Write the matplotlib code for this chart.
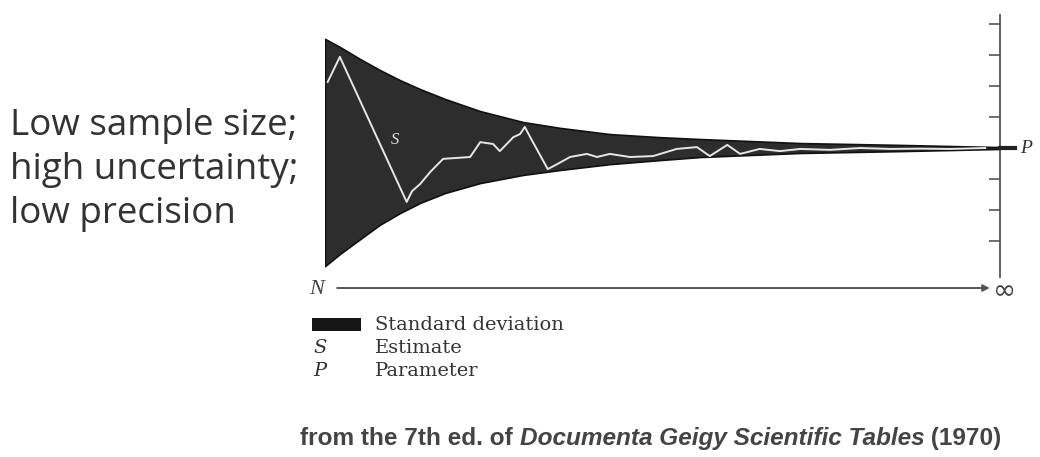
import matplotlib
matplotlib.use('Agg')
import matplotlib.pyplot as plt
from matplotlib.patches import Rectangle

# position along the sample-size axis (0 = N, 1 = infinity)
n_pos = [0.0, 0.022, 0.052, 0.081, 0.111, 0.141, 0.178, 0.230, 0.293,
         0.348, 0.422, 0.496, 0.556, 0.704, 0.852, 1.0]
# edges of the standard deviation band (tick units, P = 0)
sd_upper = [3.52, 3.26, 2.87, 2.52, 2.19, 1.90, 1.58, 1.19, 0.84,
            0.65, 0.45, 0.35, 0.29, 0.16, 0.10, 0.03]
sd_lower = [-3.81, -3.42, -2.94, -2.48, -2.10, -1.77, -1.45, -1.13, -0.87,
            -0.71, -0.52, -0.39, -0.29, -0.16, -0.10, -0.03]

# the estimate S as the sample grows
s_pos = [0.004, 0.022, 0.121, 0.129, 0.141, 0.156, 0.175, 0.215, 0.230,
         0.249, 0.259, 0.279, 0.289, 0.296, 0.304, 0.330, 0.344, 0.363,
         0.388, 0.403, 0.422, 0.452, 0.486, 0.521, 0.551, 0.570, 0.596,
         0.615, 0.644, 0.674, 0.704, 0.748, 0.793, 0.837, 0.881, 0.926, 0.978]
s_val = [2.13, 2.94, -1.74, -1.39, -1.16, -0.77, -0.35, -0.29, 0.19,
         0.13, -0.10, 0.35, 0.45, 0.68, 0.35, -0.68, -0.52, -0.29,
         -0.19, -0.29, -0.19, -0.29, -0.26, -0.03, 0.03, -0.26, 0.10,
         -0.19, -0.03, -0.10, -0.03, -0.06, 0.0, -0.03, -0.02, -0.03, 0.0]

tick_vals = [-3, -2, -1, 0, 1, 2, 3, 4]

W, H = 1040, 457


def fx(px):
    return px / W


def fy(py):
    return 1 - py / H


fig = plt.figure(figsize=(10.4, 4.57), dpi=100)
ax = fig.add_axes([fx(325), fy(277), fx(1000) - fx(325), fy(15) - fy(277)])
ax.set_xlim(0, 1)
ax.set_ylim(-4.16, 4.29)

# band and estimate
ax.fill_between(n_pos, sd_lower, sd_upper, facecolor='#2d2d2d',
                edgecolor='#111111', linewidth=1.2, zorder=2)
ax.plot(s_pos, s_val, color='#e6e6e6', lw=1.4, zorder=3)
ax.text(0.098, 0.12, 'S', fontsize=12, style='italic', family='Liberation Serif',
        color='#e0e0e0', zorder=4)

# right-hand scale
for side in ['left', 'top', 'bottom']:
    ax.spines[side].set_visible(False)
ax.spines['right'].set_color('#555555')
ax.spines['right'].set_linewidth(1.3)
ax.set_xticks([])
ax.yaxis.tick_right()
ax.set_yticks(tick_vals)
ax.set_yticklabels([])
ax.tick_params(axis='y', direction='in', length=8, width=1.2, color='#555555')
ax.plot([1.0, 1.022], [0, 0], color='#222222', lw=3, clip_on=False, zorder=5)
ax.text(1.03, 0, 'P', fontsize=14, style='italic', family='Liberation Serif',
        va='center', ha='left', color='#333333', transform=ax.transData)

# N -> infinity arrow
ax.annotate('', xy=(0.985, -0.042), xytext=(0.018, -0.042),
            xycoords='axes fraction', textcoords='axes fraction',
            arrowprops=dict(arrowstyle='-|>', color='#555555', lw=1.4,
                            mutation_scale=10, shrinkA=0, shrinkB=0))
fig.text(fx(309), fy(289), 'N', fontsize=16, style='italic',
         family='Liberation Serif', va='center', ha='left', color='#444444')
fig.text(fx(993), fy(291), '∞', fontsize=20, family='DejaVu Sans',
         va='center', ha='left', color='#444444')

# left note
fig.text(fx(10), fy(223), 'Low sample size;\nhigh uncertainty;\nlow precision',
         fontsize=26.5, family='Open Sans', color='#333333', va='baseline',
         ha='left', linespacing=1.3)

# legend
fig.patches.append(Rectangle((fx(312), fy(331)), fx(361) - fx(312),
                             fy(318) - fy(331), transform=fig.transFigure,
                             facecolor='#151515', edgecolor='none'))
leg_font = dict(fontsize=14, family='DejaVu Serif', color='#333333',
                va='center', ha='left')
fig.text(fx(375), fy(325), 'Standard deviation', **leg_font)
fig.text(fx(375), fy(348), 'Estimate', **leg_font)
fig.text(fx(375), fy(371), 'Parameter', **leg_font)
fig.text(fx(313), fy(348), 'S', style='italic', **leg_font)
fig.text(fx(313), fy(371), 'P', style='italic', **leg_font)

# caption with mixed upright / italic parts
renderer = fig.canvas.get_renderer()
x0 = fx(300)
parts = [('from the 7th ed. of ', 'normal'),
         ('Documenta Geigy Scientific Tables', 'italic'),
         (' (1970)', 'normal')]
for txt, st in parts:
    t = fig.text(x0, fy(445), txt, fontsize=17.6, family='Liberation Sans',
                 fontweight='bold', style=st, color='#444444',
                 va='baseline', ha='left')
    bb = t.get_window_extent(renderer=renderer)
    x0 += bb.width / W

fig.savefig('out.png', dpi=100)
